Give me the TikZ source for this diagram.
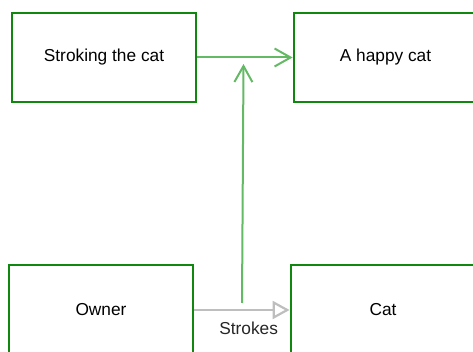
\documentclass[tikz,border=0pt]{standalone}
\usepackage{fontspec}
\setmainfont{Liberation Sans}
\usetikzlibrary{arrows.meta}
\definecolor{boxgreen}{RGB}{16,136,16}
\definecolor{linegreen}{RGB}{100,185,100}
\definecolor{linegray}{RGB}{190,190,190}
\begin{document}
\begin{tikzpicture}[x=1pt,y=-1pt,
  box/.style={draw=boxgreen, line width=2.8pt, fill=white, minimum width=184pt, minimum height=89pt, inner sep=0pt, font=\fontsize{17.3}{20}\selectfont},
  garrow/.style={draw=linegreen, line width=2pt, -{Straight Barb[length=16pt,width=18pt]}},
  grayarrow/.style={draw=linegray, line width=2.2pt, -{Triangle[open,length=17pt,width=18pt,fill=white]}},
  lbl/.style={font=\fontsize{17.3}{20}\selectfont, text=black!85, inner sep=0pt}]
\useasboundingbox (0,0) rectangle (473,352);
\clip (0,0) rectangle (473,352);
\node[box] (s) at (104,57.5) {Stroking the cat};
\node[box, minimum width=183pt] (h) at (385.5,57.5) {A happy cat};
\node[box, minimum height=90pt] (o) at (101,310) {Owner};
\node[box, minimum height=90pt] (c) at (383,310) {Cat};
\draw[garrow] (s) -- (h);
\draw[grayarrow] (o) -- (c) node[lbl, pos=0.57, yshift=-18pt] (sl) {Strokes};
\coordinate (vb) at (242,303);
\coordinate (vt) at (243.5,64);
\draw[garrow] (vb) -- (vt);
\end{tikzpicture}
\end{document}
